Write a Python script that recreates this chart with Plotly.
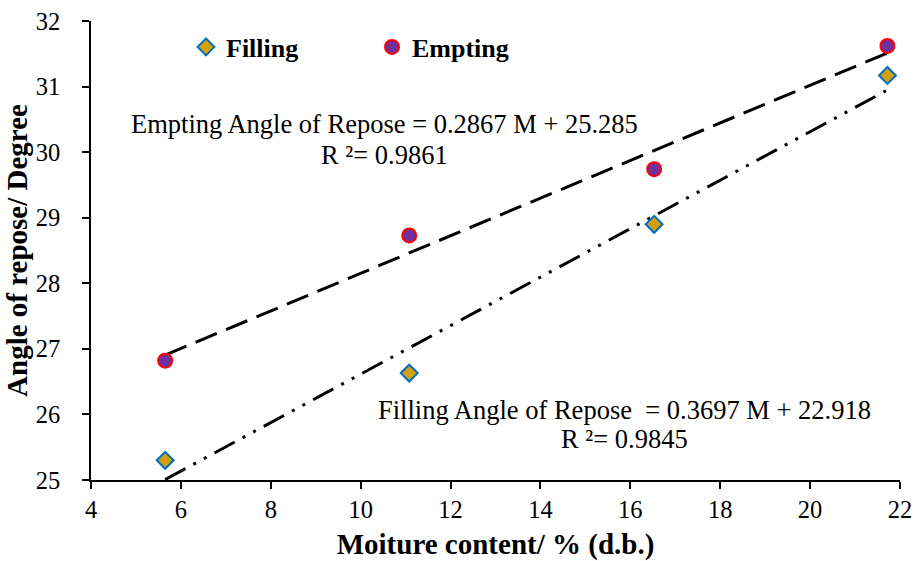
import numpy as np
import plotly.graph_objects as go

moisture = [5.65, 11.08, 16.53, 21.72]
filling = [25.30, 26.63, 28.90, 31.17]
empting = [26.82, 28.73, 29.74, 31.62]

fill_slope, fill_intercept, fill_r2 = 0.3697, 22.918, 0.9845
emp_slope, emp_intercept, emp_r2 = 0.2867, 25.285, 0.9861

FONT = "Liberation Serif, Times New Roman, serif"

L, R, T, B = 91, 15, 21, 81
W, H = 915, 561
pw, ph = W - L - R, H - T - B


def dx(px):
    return (px - L) / pw


def dy(py):
    return 1 - (py - T) / ph


x_line = np.array([min(moisture), max(moisture)])

fig = go.Figure()

fig.add_trace(go.Scatter(
    x=x_line, y=emp_slope * x_line + emp_intercept, mode="lines",
    line=dict(color="black", width=3, dash="23px,10px"),
    showlegend=False, hoverinfo="skip"))
fig.add_trace(go.Scatter(
    x=x_line, y=fill_slope * x_line + fill_intercept, mode="lines",
    line=dict(color="black", width=3, dash="23px,9px,3px,9px,3px,9px"),
    showlegend=False, hoverinfo="skip"))

fig.add_trace(go.Scatter(
    x=moisture, y=filling, mode="markers", name="Filling",
    marker=dict(symbol="diamond", size=13, color="#D4A010",
                line=dict(color="#0070C0", width=2))))
fig.add_trace(go.Scatter(
    x=moisture, y=empting, mode="markers", name="Empting",
    marker=dict(symbol="circle", size=14, color="#7030A0",
                line=dict(color="#FF0000", width=2))))

ann_font = dict(family=FONT, size=26.5, color="black")
annotations = [
    ("Empting Angle of Repose = %.4f M + %.3f" % (emp_slope, emp_intercept), 384, 124),
    ("R ²= %.4f" % emp_r2, 384, 155),
    ("Filling Angle of Repose  = %.4f M + %.3f" % (fill_slope, fill_intercept), 624, 410),
    ("R ²= %.4f" % fill_r2, 624, 439),
]
for text, px, py in annotations:
    fig.add_annotation(x=dx(px), y=dy(py), xref="x domain", yref="y domain",
                       xanchor="center", yanchor="middle", showarrow=False,
                       text=text, font=ann_font)

fig.update_layout(
    width=W, height=H,
    margin=dict(l=L, r=R, t=T, b=B),
    paper_bgcolor="white", plot_bgcolor="white",
    font=dict(family=FONT, size=24, color="black"),
    showlegend=True,
    legend=dict(orientation="h", x=dx(186), y=dy(47),
                xanchor="left", yanchor="middle",
                font=dict(family=FONT, size=26, color="black", weight="bold"),
                entrywidth=141, entrywidthmode="pixels",
                bgcolor="rgba(0,0,0,0)"),
    xaxis=dict(range=[4, 22], dtick=2, tick0=4, showgrid=False, zeroline=False,
               showline=True, linecolor="black", linewidth=1.5,
               ticks="outside", ticklen=7, tickcolor="black", tickwidth=1.5,
               automargin=False,
               tickfont=dict(family=FONT, size=24.5, color="black"),
               title=dict(text="<b>Moiture content/ % (d.b.)</b>",
                          font=dict(family=FONT, size=29, color="black"), standoff=16)),
    yaxis=dict(range=[25, 32], dtick=1, showgrid=False, zeroline=False,
               showline=True, linecolor="black", linewidth=1.5,
               ticks="outside", ticklen=7, tickcolor="black", tickwidth=1.5,
               ticksuffix="\u2002\u2009",
               automargin=False,
               tickfont=dict(family=FONT, size=24.5, color="black"),
               title=dict(text="<b>Angle of repose/ Degree</b>",
                          font=dict(family=FONT, size=29, color="black"), standoff=0)),
)

fig.write_html("out.html")
